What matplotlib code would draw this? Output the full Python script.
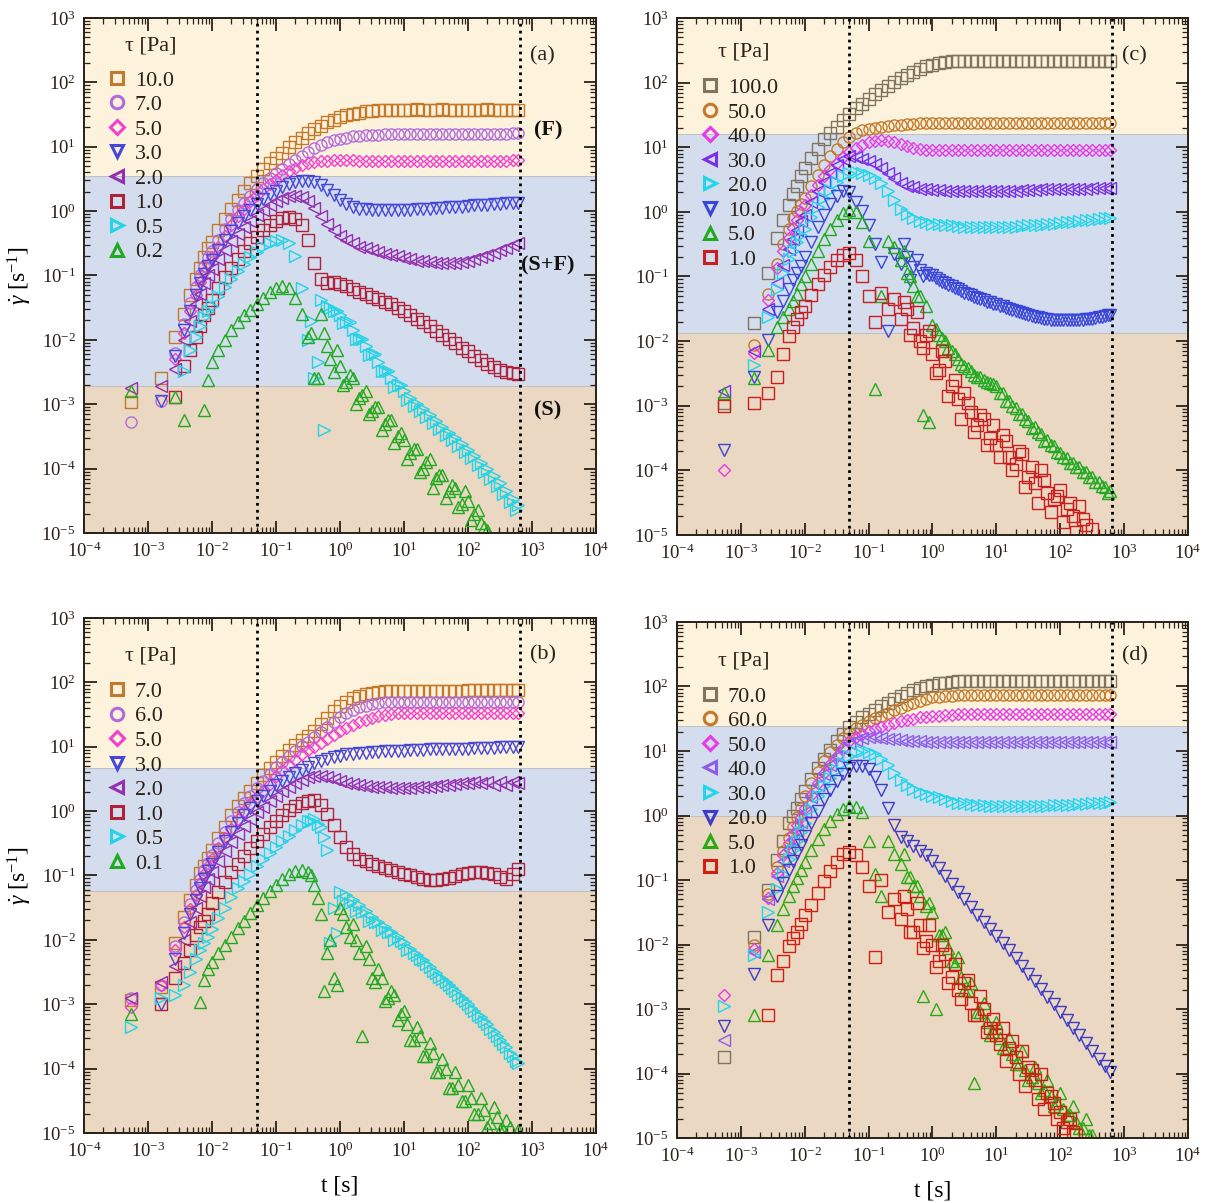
import numpy as np
import matplotlib.pyplot as plt
from matplotlib.lines import Line2D
from matplotlib.ticker import FuncFormatter, LogLocator, NullFormatter

plt.rcParams['font.family'] = ['Liberation Serif', 'DejaVu Serif']
plt.rcParams['mathtext.fontset'] = 'custom'
plt.rcParams['mathtext.rm'] = 'Liberation Serif'
plt.rcParams['mathtext.it'] = 'Liberation Serif:italic'
plt.rcParams['mathtext.bf'] = 'Liberation Serif:bold'

# log10(t [s]) sampling of the creep tests
T_MAIN = [-3.27, -2.80, -2.58, -2.44, -2.34, -2.25, -2.18, -2.12, -2.06,
          -2.0, -1.9, -1.8, -1.7, -1.6, -1.5, -1.4, -1.3, -1.2, -1.1,
          -1.0, -0.9, -0.8, -0.7, -0.6, -0.5, -0.4, -0.3, -0.2, -0.1,
          0.0, 0.1, 0.2, 0.3, 0.4, 0.5, 0.6, 0.7, 0.8, 0.9,
          1.0, 1.1, 1.2, 1.3, 1.4, 1.5, 1.6, 1.7, 1.8, 1.9,
          2.0, 2.1, 2.2, 2.3, 2.4, 2.5, 2.6, 2.7, 2.78]
# extra samples for the noisy decays
T_EXTRA = [-0.45, -0.35, -0.25, -0.15, -0.05,
           0.05, 0.15, 0.25, 0.35, 0.45, 0.55, 0.65, 0.75, 0.85, 0.95,
           1.05, 1.15, 1.25, 1.35, 1.45, 1.55, 1.65, 1.75, 1.85, 1.95,
           2.05, 2.15, 2.25, 2.35, 2.45, 2.55, 2.65, 2.75]

# ---------------- panel (a): log10(shear rate) ----------------
A_LABELS = ['10.0', '7.0', '5.0', '3.0', '2.0', '1.0', '0.5', '0.2']
a10 = [-2.96, -2.60, -1.95, -1.60, -1.30, -1.05, -0.88, -0.72, -0.58,
       -0.48, -0.30, -0.12, 0.04, 0.18, 0.32, 0.44, 0.55, 0.65, 0.74,
       0.83, 0.91, 0.99, 1.07, 1.14, 1.21, 1.27, 1.33, 1.38, 1.42,
       1.46, 1.49, 1.51, 1.53, 1.55, 1.56, 1.57, 1.57, 1.57, 1.57,
       1.57, 1.57, 1.58, 1.57, 1.57, 1.57, 1.58, 1.57, 1.57, 1.57,
       1.57, 1.57, 1.57, 1.58, 1.57, 1.57, 1.57, 1.57, 1.57]
a7 = [-3.27, -2.95, -2.20, -1.75, -1.42, -1.18, -1.00, -0.85, -0.72,
      -0.62, -0.45, -0.28, -0.12, 0.01, 0.13, 0.24, 0.34, 0.43, 0.51,
      0.59, 0.66, 0.73, 0.80, 0.86, 0.92, 0.98, 1.03, 1.07, 1.10,
      1.12, 1.14, 1.16, 1.17, 1.18, 1.19, 1.19, 1.20, 1.20, 1.20,
      1.20, 1.20, 1.20, 1.20, 1.20, 1.20, 1.20, 1.20, 1.20, 1.20,
      1.20, 1.20, 1.20, 1.20, 1.20, 1.20, 1.20, 1.21, 1.21]
a5 = [None, None, -2.30, -1.90, -1.55, -1.30, -1.10, -0.95, -0.82,
      -0.72, -0.55, -0.38, -0.22, -0.08, 0.04, 0.15, 0.25, 0.34, 0.42,
      0.49, 0.56, 0.62, 0.67, 0.71, 0.74, 0.76, 0.78, 0.78, 0.79,
      0.79, 0.79, 0.79, 0.78, 0.78, 0.78, 0.78, 0.78, 0.78, 0.78,
      0.78, 0.78, 0.78, 0.78, 0.78, 0.78, 0.78, 0.78, 0.78, 0.78,
      0.78, 0.78, 0.78, 0.78, 0.78, 0.78, 0.78, 0.79, 0.79]
a3 = [None, -2.95, -2.25, -1.85, -1.55, -1.30, -1.12, -0.98, -0.86,
      -0.76, -0.60, -0.45, -0.31, -0.19, -0.08, 0.02, 0.11, 0.19, 0.26,
      0.32, 0.38, 0.42, 0.45, 0.47, 0.47, 0.45, 0.40, 0.33, 0.25,
      0.17, 0.11, 0.07, 0.04, 0.03, 0.02, 0.01, 0.01, 0.01, 0.01,
      0.02, 0.02, 0.03, 0.03, 0.04, 0.05, 0.05, 0.06, 0.07, 0.07,
      0.08, 0.09, 0.09, 0.10, 0.11, 0.11, 0.12, 0.12, 0.12]
a2 = [-2.75, -2.72, -2.45, -2.00, -1.70, -1.45, -1.28, -1.12, -1.00,
      -0.90, -0.75, -0.60, -0.47, -0.35, -0.25, -0.15, -0.06, 0.02, 0.09,
      0.15, 0.20, 0.23, 0.24, 0.22, 0.15, 0.05, -0.08, -0.20, -0.30,
      -0.38, -0.45, -0.50, -0.55, -0.58, -0.61, -0.64, -0.66, -0.68, -0.70,
      -0.73, -0.75, -0.77, -0.78, -0.79, -0.80, -0.80, -0.80, -0.80, -0.79,
      -0.77, -0.74, -0.71, -0.68, -0.65, -0.61, -0.57, -0.53, -0.50]
a1 = [None, None, -2.88, -2.40, -2.15, -1.95, -1.78, -1.62, -1.50,
      -1.38, -1.20, -1.03, -0.88, -0.74, -0.62, -0.50, -0.40, -0.30, -0.22,
      -0.16, -0.11, -0.09, -0.12, -0.22, -0.45, -0.80, -1.05, -1.12, -1.10,
      -1.13, -1.17, -1.21, -1.25, -1.29, -1.33, -1.37, -1.41, -1.45, -1.50,
      -1.55, -1.61, -1.67, -1.73, -1.79, -1.86, -1.92, -1.99, -2.05, -2.12,
      -2.18, -2.25, -2.31, -2.37, -2.42, -2.47, -2.50, -2.52, -2.53]
a05 = [None, None, None, -2.48, -2.15, -1.95, -1.78, -1.65, -1.55,
       -1.48, -1.32, -1.18, -1.05, -0.93, -0.82, -0.72, -0.63, -0.55, -0.49,
       -0.46, -0.45, -0.50, -0.70, -1.20, -2.00, -2.60, -1.38, -1.48, -1.55,
       -1.62, -1.72, -1.85, -1.98, -2.10, -2.22, -2.35, -2.48, -2.60, -2.70,
       -2.80, -2.90, -2.99, -3.08, -3.17, -3.26, -3.35, -3.44, -3.53, -3.62,
       -3.71, -3.81, -3.91, -4.01, -4.12, -4.23, -4.35, -4.47, -4.57]
a05_x = [-1.70, -2.35, -3.40, -1.50, -1.55,
         -1.74, -1.72, -1.99, -1.98, -2.24, -2.22, -2.49, -2.48, -2.73, -2.70,
         -2.93, -3.02, -3.11, -3.20, -3.29, -3.38, -3.47, -3.56, -3.65, -3.74,
         -3.84, -3.94, -4.05, -4.16, -4.27, -4.40, -4.52, -4.65]
a02 = [-2.80, None, -2.88, -3.24, None, None, None, -3.09, -2.62,
       -2.35, -2.15, -2.00, -1.85, -1.72, -1.62, -1.53, -1.45, -1.35, -1.25,
       -1.20, -1.17, -1.20, -1.35, -1.60, -1.95, -2.60, -1.60, -2.10, -2.50,
       -2.40, -2.65, -2.60, -2.90, -2.80, -3.10, -3.05, -3.30, -3.25, -3.50,
       -3.55, -3.75, -3.70, -4.00, -3.85, -4.15, -4.10, -4.35, -4.30, -4.55,
       -4.50, -4.70, -4.85, -4.95, None, None, None, None, None]
a02_x = [-1.90, -2.60, -1.90, -2.30, -2.15,
         -2.70, -2.55, -3.00, -2.85, -3.15, -3.05, -3.40, -3.25, -3.60, -3.45,
         -3.85, -3.70, -4.05, -3.90, -4.30, -4.10, -4.45, -4.25, -4.60, -4.35,
         -4.80, -4.65, -4.90, None, None, None, None, None]

# ---------------- panel (c) ----------------
C_LABELS = ['100.0', '50.0', '40.0', '30.0', '20.0', '10.0', '5.0', '1.0']
c100 = [-2.95, -1.72, -0.95, -0.40, -0.12, 0.10, 0.28, 0.40, 0.55,
        0.68, 0.83, 0.98, 1.12, 1.22, 1.32, 1.42, 1.52, 1.60, 1.67,
        1.74, 1.82, 1.88, 1.95, 2.01, 2.07, 2.12, 2.17, 2.21, 2.25,
        2.28, 2.30, 2.32, 2.33, 2.34, 2.34, 2.34, 2.34, 2.34, 2.34,
        2.34, 2.34, 2.34, 2.34, 2.34, 2.34, 2.34, 2.34, 2.34, 2.34,
        2.34, 2.34, 2.34, 2.34, 2.34, 2.34, 2.34, 2.34, 2.34]
c50 = [None, -2.06, -1.27, -0.80, -0.50, -0.27, -0.10, 0.02, 0.12,
       0.22, 0.40, 0.57, 0.72, 0.86, 0.98, 1.08, 1.16, 1.22, 1.26,
       1.28, 1.30, 1.32, 1.33, 1.34, 1.35, 1.36, 1.36, 1.37, 1.37,
       1.37, 1.37, 1.37, 1.37, 1.37, 1.37, 1.37, 1.37, 1.37, 1.37,
       1.37, 1.37, 1.37, 1.37, 1.37, 1.37, 1.37, 1.37, 1.37, 1.37,
       1.37, 1.37, 1.37, 1.37, 1.37, 1.37, 1.37, 1.37, 1.37]
c40 = [-4.00, -2.19, -1.37, -0.87, -0.60, -0.40, -0.25, -0.12, 0.00,
       0.10, 0.26, 0.42, 0.55, 0.66, 0.76, 0.85, 0.93, 0.99, 1.04,
       1.08, 1.10, 1.11, 1.10, 1.08, 1.05, 1.02, 0.99, 0.97, 0.96,
       0.95, 0.95, 0.95, 0.95, 0.95, 0.95, 0.95, 0.95, 0.95, 0.95,
       0.95, 0.95, 0.95, 0.95, 0.95, 0.95, 0.95, 0.95, 0.95, 0.95,
       0.95, 0.95, 0.95, 0.95, 0.95, 0.95, 0.96, 0.96, 0.96]
c30 = [-2.77, -2.16, -1.50, -1.10, -0.82, -0.58, -0.42, -0.28, -0.14,
       -0.05, 0.15, 0.32, 0.46, 0.60, 0.72, 0.82, 0.86, 0.85, 0.82,
       0.78, 0.74, 0.68, 0.60, 0.52, 0.45, 0.40, 0.38, 0.36, 0.35,
       0.34, 0.34, 0.33, 0.33, 0.33, 0.32, 0.32, 0.32, 0.32, 0.32,
       0.32, 0.33, 0.33, 0.33, 0.34, 0.34, 0.34, 0.35, 0.35, 0.35,
       0.35, 0.36, 0.36, 0.36, 0.36, 0.37, 0.37, 0.37, 0.37]
c20 = [None, -2.37, -1.62, -1.20, -0.95, -0.73, -0.60, -0.47, -0.36,
       -0.26, -0.08, 0.08, 0.21, 0.34, 0.46, 0.55, 0.60, 0.62, 0.60,
       0.57, 0.53, 0.45, 0.33, 0.18, 0.05, -0.04, -0.10, -0.14, -0.16,
       -0.18, -0.19, -0.20, -0.21, -0.22, -0.23, -0.23, -0.24, -0.24, -0.24,
       -0.24, -0.24, -0.23, -0.23, -0.22, -0.21, -0.20, -0.20, -0.19, -0.18,
       -0.17, -0.16, -0.15, -0.14, -0.13, -0.12, -0.11, -0.10, -0.10]
c10 = [-3.69, -2.55, -1.98, -1.55, -1.38, -1.20, -1.05, -0.95, -0.83,
       -0.70, -0.47, -0.24, -0.05, 0.12, 0.25, 0.33, 0.30, 0.15, 0.02,
       -0.20, -0.50, -0.78, -1.85, -0.65, -0.80, -0.70, -0.85, -0.90, -0.95,
       -0.98, -1.05, -1.10, -1.15, -1.20, -1.25, -1.29, -1.33, -1.37, -1.40,
       -1.43, -1.46, -1.50, -1.53, -1.56, -1.59, -1.62, -1.64, -1.66, -1.67,
       -1.68, -1.68, -1.68, -1.67, -1.66, -1.65, -1.63, -1.61, -1.60]
c10_x = [-0.50, -1.05, -0.75, -1.00, -0.97,
         -1.02, -1.08, -1.13, -1.18, -1.23, -1.27, -1.31, -1.35, -1.39, -1.42,
         -1.45, -1.48, -1.52, -1.55, -1.58, -1.61, -1.63, -1.65, -1.67, -1.68,
         -1.68, -1.68, -1.67, -1.67, -1.66, -1.64, -1.62, -1.60]
c5 = [-2.80, -2.57, -2.14, -1.78, -1.62, -1.50, -1.38, -1.27, -1.12,
      -1.00, -0.80, -0.60, -0.42, -0.26, -0.12, -0.02, 0.03, 0.00, -0.15,
      -0.45, -2.74, -1.30, -0.45, -0.55, -0.75, -0.95, -1.15, -1.30, -1.45,
      -1.75, -1.90, -2.00, -2.15, -2.28, -2.38, -2.47, -2.55, -2.60, -2.65,
      -2.70, -2.81, -2.92, -3.03, -3.13, -3.23, -3.33, -3.43, -3.53, -3.63,
      -3.73, -3.81, -3.88, -3.95, -4.02, -4.10, -4.18, -4.25, -4.32]
c5_x = [-0.60, -1.00, -1.30, -3.15, -3.25,
        -1.82, -1.95, -2.10, -2.20, -2.35, -2.42, -2.52, -2.56, -2.64, -2.66,
        -2.80, -2.92, -3.00, -3.12, -3.20, -3.34, -3.40, -3.54, -3.60, -3.72,
        -3.80, -3.88, -3.95, -4.02, -4.10, -4.18, -4.24, -4.35]
c1 = [-3.00, -2.96, -2.80, -2.55, -2.20, -1.92, -1.78, -1.66, -1.55,
      -1.45, -1.28, -1.12, -0.98, -0.85, -0.74, -0.66, -0.64, -0.75, -1.00,
      -1.30, -1.70, -1.25, -1.50, -1.35, -1.65, -1.50, -1.80, -2.00, -1.90,
      -2.20, -2.45, -2.30, -2.70, -2.90, -2.80, -3.10, -3.30, -3.20, -3.50,
      -3.60, -3.45, -3.80, -3.90, -3.75, -4.10, -4.20, -4.00, -4.35, -4.45,
      -4.30, -4.60, -4.70, -4.55, -4.85, -4.90, None, None, None]
c1_x = [-1.40, -1.90, -1.55, -2.10, -1.85,
        -2.50, -2.15, -2.85, -2.60, -3.20, -2.95, -3.40, -3.15, -3.60, -3.30,
        -3.80, -3.55, -4.00, -3.70, -4.25, -3.95, -4.50, -4.15, -4.65, -4.40,
        -4.80, -4.50, -4.95, -4.75, None, None, None, None]

# ---------------- panel (b) ----------------
B_LABELS = ['7.0', '6.0', '5.0', '3.0', '2.0', '1.0', '0.5', '0.1']
b7 = [-2.94, -2.73, -2.05, -1.64, -1.38, -1.15, -0.96, -0.85, -0.73,
      -0.60, -0.42, -0.24, -0.06, 0.08, 0.20, 0.32, 0.44, 0.56, 0.67,
      0.77, 0.86, 0.95, 1.03, 1.10, 1.17, 1.25, 1.35, 1.45, 1.55,
      1.63, 1.70, 1.75, 1.79, 1.82, 1.84, 1.85, 1.86, 1.87, 1.87,
      1.87, 1.87, 1.87, 1.87, 1.87, 1.87, 1.87, 1.87, 1.87, 1.87,
      1.88, 1.88, 1.88, 1.88, 1.88, 1.88, 1.88, 1.88, 1.88]
b6 = [-2.90, -2.70, -2.10, -1.72, -1.45, -1.22, -1.05, -0.92, -0.80,
      -0.68, -0.50, -0.32, -0.15, -0.01, 0.12, 0.24, 0.36, 0.47, 0.58,
      0.68, 0.77, 0.86, 0.94, 1.01, 1.08, 1.15, 1.23, 1.31, 1.39,
      1.46, 1.52, 1.57, 1.61, 1.64, 1.66, 1.68, 1.69, 1.70, 1.70,
      1.70, 1.70, 1.70, 1.70, 1.70, 1.70, 1.70, 1.70, 1.70, 1.70,
      1.70, 1.70, 1.70, 1.70, 1.70, 1.70, 1.70, 1.70, 1.70]
b5 = [-3.05, -2.70, -2.15, -1.80, -1.52, -1.30, -1.12, -0.98, -0.86,
      -0.75, -0.58, -0.42, -0.27, -0.13, 0.00, 0.11, 0.22, 0.32, 0.42,
      0.55, 0.64, 0.72, 0.80, 0.88, 0.95, 1.00, 1.06, 1.12, 1.18,
      1.24, 1.29, 1.34, 1.38, 1.42, 1.45, 1.48, 1.50, 1.51, 1.52,
      1.53, 1.53, 1.53, 1.53, 1.53, 1.53, 1.53, 1.53, 1.53, 1.53,
      1.53, 1.53, 1.53, 1.53, 1.53, 1.53, 1.53, 1.53, 1.53]
b3 = [None, -3.00, -2.30, -1.90, -1.60, -1.38, -1.20, -1.05, -0.93,
      -0.82, -0.64, -0.47, -0.32, -0.18, -0.06, 0.05, 0.15, 0.24, 0.32,
      0.40, 0.47, 0.53, 0.59, 0.64, 0.69, 0.74, 0.78, 0.81, 0.84,
      0.86, 0.88, 0.89, 0.90, 0.91, 0.92, 0.92, 0.93, 0.93, 0.94,
      0.94, 0.95, 0.95, 0.95, 0.96, 0.96, 0.96, 0.97, 0.97, 0.97,
      0.97, 0.98, 0.98, 0.98, 0.98, 0.99, 0.99, 0.99, 1.00]
b2 = [-2.90, -2.65, -2.40, -2.00, -1.72, -1.50, -1.32, -1.18, -1.06,
      -0.95, -0.78, -0.62, -0.48, -0.35, -0.23, -0.12, -0.02, 0.07, 0.16,
      0.24, 0.31, 0.38, 0.44, 0.49, 0.53, 0.55, 0.55, 0.53, 0.50,
      0.47, 0.44, 0.42, 0.40, 0.39, 0.38, 0.37, 0.37, 0.36, 0.36,
      0.36, 0.36, 0.37, 0.37, 0.38, 0.39, 0.40, 0.41, 0.42, 0.43,
      0.44, 0.45, 0.43, 0.46, 0.41, 0.45, 0.40, 0.46, 0.44]
b1 = [None, -3.00, -2.60, -2.36, -2.16, -1.92, -1.80, -1.70, -1.60,
      -1.42, -1.25, -1.10, -0.95, -0.82, -0.70, -0.58, -0.47, -0.36, -0.25,
      -0.15, -0.06, 0.02, 0.08, 0.13, 0.16, 0.17, 0.10, -0.05, -0.22,
      -0.40, -0.56, -0.67, -0.74, -0.78, -0.82, -0.85, -0.88, -0.91, -0.94,
      -0.97, -1.00, -1.03, -1.05, -1.07, -1.07, -1.06, -1.04, -1.01, -0.98,
      -0.96, -0.95, -0.94, -0.96, -0.98, -1.03, -1.05, -0.98, -0.90]
b05 = [-3.35, -2.90, -2.85, -2.70, -2.50, -2.30, -2.15, -2.05, -1.95,
       -1.83, -1.66, -1.50, -1.33, -1.20, -1.08, -0.97, -0.86, -0.75, -0.65,
       -0.55, -0.46, -0.38, -0.30, -0.22, -0.16, -0.13, -0.25, -0.60, -1.50,
       -1.25, -1.30, -1.38, -1.46, -1.55, -1.64, -1.72, -1.80, -1.88, -1.96,
       -2.05, -2.14, -2.23, -2.32, -2.42, -2.52, -2.61, -2.70, -2.80, -2.90,
       -3.00, -3.10, -3.20, -3.31, -3.43, -3.55, -3.67, -3.80, -3.92]
b05_x = [-0.15, -0.20, -0.40, -2.05, -1.90,
         -1.40, -1.42, -1.55, -1.57, -1.70, -1.72, -1.85, -1.87, -2.00, -2.02,
         -2.15, -2.20, -2.30, -2.38, -2.48, -2.57, -2.66, -2.75, -2.86, -2.95,
         -3.06, -3.16, -3.26, -3.38, -3.50, -3.62, -3.75, -3.88]
b01 = [-3.15, None, None, None, None, None, -2.96, -2.62, -2.45,
       -2.35, -2.20, -2.08, -1.95, -1.82, -1.70, -1.58, -1.46, -1.35, -1.24,
       -1.14, -1.05, -0.98, -0.93, -0.91, -0.94, -1.15, -1.60, -2.20, -2.60,
       -1.50, -1.80, -1.75, -2.20, -2.10, -2.60, -2.45, -2.95, -2.80, -3.25,
       -3.10, -3.55, -3.35, -3.80, -3.60, -4.05, -3.85, -4.30, -4.05, -4.50,
       -4.25, -4.70, -4.45, -4.90, -4.60, -4.95, -4.80, None, -4.95]
b01_x = [-1.00, -1.35, -2.80, -2.00, -2.70,
         -1.60, -1.95, -2.00, -3.50, -2.30, -2.65, -2.60, -2.90, -2.85, -3.15,
         -3.30, -3.55, -3.50, -3.80, -3.75, -4.05, -4.00, -4.30, -4.25, -4.50,
         -4.45, -4.70, -4.65, -4.85, -4.75, -4.95, -4.90, None]

# ---------------- panel (d) ----------------
D_LABELS = ['70.0', '60.0', '50.0', '40.0', '30.0', '20.0', '5.0', '1.0']
d70 = [-3.74, -1.88, -1.16, -0.69, -0.40, -0.12, 0.00, 0.12, 0.25,
       0.38, 0.56, 0.73, 0.88, 1.02, 1.15, 1.27, 1.37, 1.45, 1.52,
       1.58, 1.64, 1.70, 1.75, 1.80, 1.85, 1.90, 1.94, 1.98, 2.01,
       2.03, 2.05, 2.06, 2.07, 2.08, 2.08, 2.08, 2.08, 2.08, 2.08,
       2.08, 2.08, 2.08, 2.08, 2.08, 2.08, 2.08, 2.08, 2.08, 2.08,
       2.08, 2.08, 2.08, 2.08, 2.08, 2.08, 2.08, 2.08, 2.08]
d60 = [None, -2.00, -1.21, -0.80, -0.55, -0.35, -0.18, -0.03, 0.12,
       0.30, 0.50, 0.68, 0.84, 0.98, 1.10, 1.20, 1.28, 1.35, 1.41,
       1.46, 1.51, 1.55, 1.59, 1.63, 1.67, 1.71, 1.75, 1.78, 1.81,
       1.83, 1.84, 1.85, 1.86, 1.87, 1.87, 1.87, 1.87, 1.87, 1.87,
       1.87, 1.87, 1.87, 1.87, 1.87, 1.87, 1.87, 1.87, 1.87, 1.87,
       1.87, 1.87, 1.87, 1.87, 1.87, 1.87, 1.87, 1.87, 1.87]
d50 = [-2.78, -2.07, -1.28, -0.89, -0.62, -0.42, -0.28, -0.15, -0.02,
       0.12, 0.32, 0.50, 0.66, 0.80, 0.93, 1.05, 1.16, 1.22, 1.27,
       1.31, 1.34, 1.37, 1.40, 1.43, 1.46, 1.48, 1.50, 1.52, 1.53,
       1.54, 1.55, 1.56, 1.56, 1.57, 1.57, 1.57, 1.57, 1.57, 1.57,
       1.57, 1.57, 1.57, 1.57, 1.57, 1.57, 1.57, 1.57, 1.57, 1.57,
       1.57, 1.57, 1.57, 1.57, 1.57, 1.57, 1.57, 1.57, 1.57]
d40 = [-3.48, -2.12, -1.30, -0.94, -0.70, -0.52, -0.38, -0.24, -0.10,
       0.06, 0.28, 0.48, 0.64, 0.79, 0.92, 1.03, 1.12, 1.17, 1.20,
       1.21, 1.21, 1.20, 1.19, 1.18, 1.17, 1.16, 1.15, 1.15, 1.14,
       1.14, 1.14, 1.14, 1.14, 1.14, 1.14, 1.14, 1.14, 1.14, 1.14,
       1.14, 1.14, 1.14, 1.14, 1.14, 1.14, 1.14, 1.14, 1.14, 1.14,
       1.14, 1.14, 1.14, 1.14, 1.14, 1.14, 1.14, 1.14, 1.14]
d30 = [-2.96, -2.17, -1.50, -1.14, -0.90, -0.68, -0.53, -0.40, -0.25,
       -0.12, 0.10, 0.30, 0.45, 0.58, 0.70, 0.82, 0.92, 0.98, 1.00,
       0.99, 0.95, 0.88, 0.78, 0.66, 0.55, 0.47, 0.41, 0.37, 0.34,
       0.31, 0.28, 0.25, 0.22, 0.20, 0.19, 0.18, 0.17, 0.16, 0.15,
       0.15, 0.14, 0.14, 0.14, 0.14, 0.14, 0.15, 0.15, 0.15, 0.16,
       0.16, 0.17, 0.17, 0.18, 0.18, 0.19, 0.20, 0.20, 0.21]
d20 = [-3.27, -2.45, -1.69, -1.25, -1.05, -0.85, -0.70, -0.58, -0.45,
       -0.32, -0.12, 0.07, 0.25, 0.40, 0.53, 0.65, 0.73, 0.77, 0.76,
       0.72, 0.60, 0.40, 0.12, -0.15, -0.33, -0.40, -0.48, -0.55, -0.62,
       -0.70, -0.82, -0.94, -1.06, -1.18, -1.30, -1.42, -1.54, -1.65, -1.76,
       -1.87, -1.98, -2.09, -2.21, -2.33, -2.45, -2.57, -2.69, -2.81, -2.93,
       -3.05, -3.17, -3.29, -3.41, -3.53, -3.65, -3.77, -3.89, -3.98]
d5 = [None, -3.09, -2.17, -1.70, -1.45, -1.25, -1.10, -0.97, -0.85,
      -0.72, -0.53, -0.36, -0.21, -0.08, 0.02, 0.10, 0.14, 0.13, 0.05,
      -0.40, -0.90, -1.25, -0.40, -0.60, -0.75, -0.95, -1.10, -1.25, -1.40,
      -1.50, -1.85, -1.80, -2.25, -2.20, -2.70, -2.60, -3.05, -2.90, -3.40,
      -3.20, -3.60, -3.45, -3.85, -3.65, -4.10, -3.90, -4.30, -4.10, -4.50,
      -4.30, -4.65, -4.50, -4.85, -4.70, -4.95, None, None, None]
d5_x = [-0.60, -0.95, -1.10, -2.80, -1.35,
        -3.00, -1.85, -2.05, -2.30, -2.50, -2.70, -4.15, -3.05, -3.20, -3.35,
        -3.45, -3.60, -3.70, -3.85, -3.95, -4.05, -4.15, -4.25, -4.35, -4.45,
        -4.55, -4.65, -4.75, -4.85, -4.95, None, None, None]
d1 = [None, None, -3.10, -2.48, -2.25, -2.02, -1.90, -1.80, -1.68,
      -1.55, -1.38, -1.20, -1.02, -0.86, -0.72, -0.60, -0.56, -0.62, -0.80,
      -1.10, -2.20, -1.00, -1.50, -1.30, -1.60, -1.45, -1.80, -1.70, -1.95,
      -2.00, -2.25, -2.15, -2.50, -2.70, -2.60, -2.90, -3.10, -3.00, -3.30,
      -3.40, -3.30, -3.60, -3.75, -3.65, -3.90, -4.10, -4.00, -4.30, -4.45,
      -4.60, -4.75, -4.90, None, None, None, None, None, None]
d1_x = [-1.25, -1.80, -1.35, -2.05, -1.70,
        -2.35, -2.00, -2.60, -2.30, -2.85, -2.55, -3.10, -2.80, -3.35, -3.15,
        -3.55, -3.80, -3.50, -4.00, -4.20, -3.95, -4.40, -4.55, -4.35, -4.70,
        -4.85, -4.70, -4.95, None, None, None, None, None]

MK_AB = ['s', 'o', 'D', 'v', '<', 's', '>', '^']
MK_CD = ['s', 'o', 'D', '<', '>', 'v', '^', 's']
COL_AB = ['#C4792A', '#B26BDD', '#F23FD0', '#4646D8', '#952EB0', '#B0213A', '#22D4E6', '#1FAA1F']
COL_C = ['#80745F', '#C4792A', '#E83BE8', '#7A2EEA', '#1FD6EA', '#3A46D8', '#1FAA1F', '#C82020']
COL_D = ['#80745F', '#C4792A', '#E83BE8', '#8E5CEB', '#1FD6EA', '#3C3CC8', '#2AAA10', '#D01E10']

YELLOW, BLUE, TAN = '#FDF3DC', '#D3DDEE', '#EAD8C2'

panels = [
    dict(rect=[0.06925, 0.55694, 0.42209, 0.42810], tag='(a)', labels=A_LABELS,
         data=[a10, a7, a5, a3, a2, a1, a05, a02], extra={6: a05_x, 7: a02_x},
         marks=MK_AB, cols=COL_AB, bands=(3.5, 1.9e-3), ylab=True, xlab=False,
         regions=True, title_y=0.945, leg_y=0.899, tag_y=0.926),
    dict(rect=[0.55812, 0.55528, 0.42127, 0.42976], tag='(c)', labels=C_LABELS,
         data=[c100, c50, c40, c30, c20, c10, c5, c1], extra={5: c10_x, 6: c5_x, 7: c1_x},
         marks=MK_CD, cols=COL_C, bands=(16.0, 0.0132), ylab=False, xlab=False,
         regions=False, title_y=0.935, leg_y=0.885, tag_y=0.926),
    dict(rect=[0.06925, 0.05819, 0.42209, 0.42810], tag='(b)', labels=B_LABELS,
         data=[b7, b6, b5, b3, b2, b1, b05, b01], extra={6: b05_x, 7: b01_x},
         marks=MK_AB, cols=COL_AB, bands=(4.6, 0.057), ylab=True, xlab=True,
         regions=False, title_y=0.926, leg_y=0.877, tag_y=0.928),
    dict(rect=[0.55812, 0.05403, 0.42127, 0.42893], tag='(d)', labels=D_LABELS,
         data=[d70, d60, d50, d40, d30, d20, d5, d1], extra={6: d5_x, 7: d1_x},
         marks=MK_CD, cols=COL_D, bands=(24.5, 1.0), ylab=False, xlab=True,
         regions=False, title_y=0.924, leg_y=0.876, tag_y=0.934),
]

tm = 10.0 ** np.array(T_MAIN)
tx = 10.0 ** np.array(T_EXTRA)

fig = plt.figure(figsize=(12.13, 12.03), dpi=100)

def dec(v, pos):
    return r'$10^{%d}$' % int(round(np.log10(v)))

for p in panels:
    ax = fig.add_axes(p['rect'])
    ax.set_xscale('log')
    ax.set_yscale('log')
    ax.set_xlim(1e-4, 1e4)
    ax.set_ylim(1e-5, 1e3)
    hi, lo = p['bands']
    ax.axhspan(hi, 1e3, color=YELLOW, lw=0, zorder=0)
    ax.axhspan(lo, hi, color=BLUE, lw=0, zorder=0)
    ax.axhspan(1e-5, lo, color=TAN, lw=0, zorder=0)
    ax.axhline(hi, color='#BBBBBB', lw=0.6, zorder=0.5)
    ax.axhline(lo, color='#BBBBBB', lw=0.6, zorder=0.5)

    handles = []
    for i, y in enumerate(p['data']):
        m, c = p['marks'][i], p['cols'][i]
        ms = 6.0 if m == 'D' else 8.0
        yv = 10.0 ** np.array(y, dtype=float)
        ax.plot(tm, yv, ls='none', marker=m, ms=ms, mfc='none', mec=c, mew=1.0, zorder=3)
        if i in p['extra']:
            ye = 10.0 ** np.array(p['extra'][i], dtype=float)
            ax.plot(tx, ye, ls='none', marker=m, ms=ms, mfc='none', mec=c, mew=1.0, zorder=3)
        handles.append(Line2D([], [], ls='none', marker=m, ms=ms + 1, mfc='none', mec=c, mew=2.2))

    ax.axvline(0.05, color='black', ls=(0, (1, 1.5)), lw=2.0, zorder=4)
    ax.axvline(650, color='black', ls=(0, (1, 1.5)), lw=2.0, zorder=4)

    ax.text(0.08, p['title_y'], 'τ [Pa]', transform=ax.transAxes, fontsize=16,
            ha='left', va='center', color='#2A2118', zorder=6)
    leg = ax.legend(handles, p['labels'], loc='upper left',
                    bbox_to_anchor=(0.043, p['leg_y']), frameon=False, fontsize=16,
                    handlelength=1.0, handletextpad=0.3, borderpad=0.0,
                    labelspacing=0.18, borderaxespad=0.0)
    for t in leg.get_texts():
        t.set_color('#2A2118')
    leg.set_zorder(5)

    ax.text(0.896, p['tag_y'], p['tag'], transform=ax.transAxes, fontsize=16,
            ha='center', va='center', color='#2A2118', zorder=6)
    if p['regions']:
        for lab, yy in [('(F)', 0.782), ('(S+F)', 0.52), ('(S)', 0.237)]:
            ax.text(0.906, yy, lab, transform=ax.transAxes, fontsize=16,
                    fontweight='bold', ha='center', va='center', color='#111111', zorder=6)

    ax.set_xticks([10.0 ** k for k in range(-4, 5)])
    ax.set_yticks([10.0 ** k for k in range(-5, 4)])
    ax.xaxis.set_minor_locator(LogLocator(base=10, subs=np.arange(2, 10), numticks=20))
    ax.yaxis.set_minor_locator(LogLocator(base=10, subs=np.arange(2, 10), numticks=20))
    ax.xaxis.set_major_formatter(FuncFormatter(dec))
    ax.yaxis.set_major_formatter(FuncFormatter(dec))
    ax.xaxis.set_minor_formatter(NullFormatter())
    ax.yaxis.set_minor_formatter(NullFormatter())
    ax.tick_params(which='both', direction='in', top=True, right=True, colors='#2A2118')
    ax.tick_params(which='major', length=9, width=1.3, labelsize=13.5, pad=6)
    ax.tick_params(which='minor', length=4.5, width=0.9)
    for s in ax.spines.values():
        s.set_linewidth(1.4)
        s.set_color('#2A2118')
        s.set_zorder(6)

    if p['ylab']:
        ax.set_ylabel(r'$\dot{\gamma}$ [s$^{-1}$]', fontsize=17)
        ax.yaxis.set_label_coords(-0.098, 0.5)
    if p['xlab']:
        ax.set_xlabel('t [s]', fontsize=17)
        ax.xaxis.set_label_coords(0.5, -0.083)

fig.savefig('out.png', dpi=100)
